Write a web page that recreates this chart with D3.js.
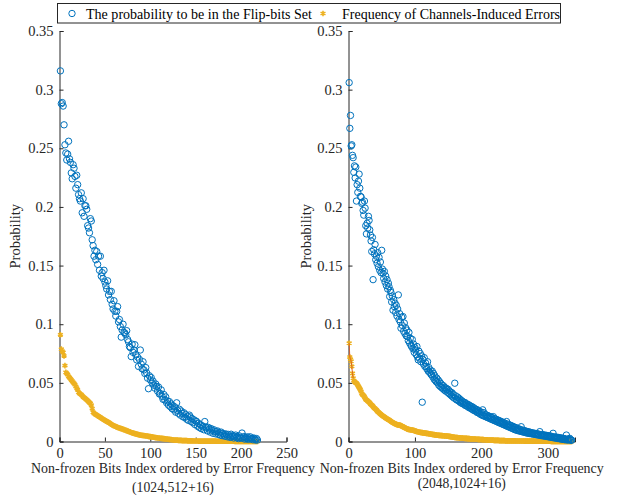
<!DOCTYPE html>
<html>
<head>
<meta charset="utf-8">
<script src="https://cdn.jsdelivr.net/npm/d3@7"></script>
<style>
	body{margin:0;background:#fff}
	svg{font-family:'Liberation Serif',serif}
</style>
</head>
<body>
<svg id="chart" width="622" height="498"></svg>
<script>
// values, index = position in array + 1
const flipLeft = [
0.316,0.288,0.289,0.286,0.270,0.253,0.246,0.240,0.245,0.256,
0.241,0.238,0.229,0.224,0.236,0.233,0.226,0.216,0.227,0.219,
0.2105,0.207,0.205,0.212,0.195,0.207,0.192,0.201,0.201,0.198,
0.184,0.182,0.178,0.190,0.188,0.172,0.167,0.158,0.163,0.155,
0.162,0.151,0.158,0.146,0.158,0.141,0.144,0.139,0.146,0.136,
0.133,0.130,0.137,0.125,0.128,0.121,0.128,0.117,0.113,0.120,
0.111,0.107,0.111,0.115,0.102,0.104,0.098,0.089,0.095,0.100,
0.093,0.0925,0.091,0.0945,0.087,0.085,0.081,0.080,0.0724,0.083,
0.076,0.078,0.0825,0.074,0.0696,0.072,0.064,0.070,0.078,0.066,
0.062,0.068,0.061,0.058,0.063,0.0585,0.054,0.045,0.056,0.0525,
0.0545,0.050,0.0515,0.048,0.0455,0.049,0.047,0.043,0.0465,0.0405,
0.041,0.044,0.0385,0.036,0.040,0.0354,0.038,0.033,0.0345,0.031,
0.034,0.0297,0.032,0.028,0.0305,0.027,0.0295,0.025,0.033,0.0265,
0.024,0.0275,0.0225,0.026,0.024,0.021,0.0245,0.0205,0.023,0.019,
0.0215,0.018,0.0225,0.021,0.017,0.0195,0.016,0.0185,0.0145,0.0175,
0.017,0.013,0.0155,0.012,0.0145,0.011,0.0135,0.0125,0.010,0.017,
0.0125,0.0115,0.009,0.012,0.0105,0.008,0.011,0.0095,0.007,0.010,
0.0085,0.0065,0.0084,0.009,0.006,0.0075,0.0055,0.008,0.005,0.0068,
0.0058,0.0045,0.0065,0.0055,0.004,0.006,0.0048,0.0035,0.0062,0.0042,
0.005,0.003,0.0045,0.0055,0.0032,0.004,0.0025,0.0048,0.0035,0.0028,
0.0072,0.003,0.0042,0.002,0.0035,0.0025,0.004,0.0018,0.003,0.004,
0.0022,0.0028,0.0015,0.003,0.002,0.0012,0.0025,0.0013]

const freqLeft = [
0.091,0.0787,0.077,0.076,0.073,0.0647,0.059,0.058,0.057,0.0555,
0.0545,0.0535,0.0525,0.0515,0.0505,0.0495,0.0485,0.047,0.0455,0.044,
0.042,0.041,0.0405,0.040,0.039,0.038,0.0375,0.037,0.0362,0.0355,
0.0348,0.034,0.0332,0.0325,0.031,0.028,0.025,0.024,0.0235,0.023,
0.0225,0.022,0.0215,0.021,0.0205,0.020,0.0195,0.019,0.0185,0.018,
0.0176,0.0172,0.0168,0.0164,0.0158,0.0152,0.0147,0.0142,0.0138,0.0134,
0.013,0.0127,0.0124,0.012,0.0117,0.0114,0.0112,0.011,0.0107,0.0104,
0.0101,0.0098,0.0095,0.0092,0.0089,0.0086,0.0083,0.008,0.0077,0.0074,
0.0071,0.0069,0.0067,0.0065,0.0063,0.0061,0.0059,0.0057,0.0055,0.0053,
0.0052,0.0051,0.005,0.0049,0.0048,0.0047,0.0046,0.0044,0.0042,0.0041,
0.004,0.0039,0.0037,0.0036,0.0034,0.0033,0.0032,0.0031,0.003,0.0029,
0.0028,0.0027,0.0026,0.0025,0.0024,0.0023,0.0022,0.0021,0.002,0.0019,
0.0018,0.0017,0.0016,0.0015,0.0014,0.0013,0.0012,0.0012,0.0011,0.0011,
0.001,0.001,0.0009,0.0009,0.0008,0.0008,0.0008,0.0007,0.0007,0.0007,
0.0006,0.0006,0.0006,0.0005,0.0005,0.0005,0.0005,0.0004,0.0004,0.0004,
0.0004,0.0004,0.0003,0.0003,0.0003,0.0003,0.0003,0.0003,0.0003,0.0003,
0.0003,0.0003,0.0003,0.0003,0.0003,0.0003,0.0003,0.0003,0.0003,0.0003,
0.0003,0.0003,0.0002,0.0002,0.0002,0.0002,0.0002,0.0002,0.0002,0.0002,
0.0002,0.0002,0.0002,0.0002,0.0002,0.0002,0.0002,0.0002,0.0002,0.0002,
0.0002,0.0002,0.0001,0.0001,0.0001,0.0001,0.0001,0.0001,0.0001,0.0001,
0.0001,0.0001,0.0001,0.0001,0.0001,0.0001,0.0001,0.0001,0.0001,0.0001,
0.0001,0.0001,0.0001,0,0,0,0,0]

const flipRight = [
0.306,0.267,0.278,0.252,0.253,0.244,0.242,0.2295,0.235,0.2247,
0.234,0.205,0.219,0.2124,0.222,0.228,0.216,0.209,0.2085,0.203,
0.204,0.197,0.193,0.205,0.199,0.184,0.177,0.186,0.182,0.192,
0.1885,0.1805,0.176,0.171,0.162,0.174,0.138,0.1635,0.160,0.168,
0.155,0.158,0.152,0.161,0.149,0.157,0.146,0.153,0.144,0.163,
0.147,0.1435,0.139,0.145,0.136,0.141,0.133,0.138,0.130,0.135,
0.132,0.1236,0.129,0.127,0.119,0.124,0.112,0.121,0.115,0.118,
0.110,0.116,0.107,0.113,0.125,0.104,0.109,0.102,0.0966,0.106,
0.099,0.1065,0.094,0.101,0.092,0.097,0.090,0.095,0.0895,0.086,
0.093,0.084,0.088,0.082,0.081,0.087,0.079,0.083,0.076,0.080,
0.078,0.074,0.081,0.072,0.0696,0.077,0.071,0.075,0.068,0.073,
0.0335,0.070,0.066,0.0715,0.064,0.067,0.064,0.062,0.068,0.060,
0.063,0.059,0.061,0.0575,0.0568,0.060,0.055,0.058,0.053,0.056,
0.052,0.051,0.054,0.050,0.0525,0.048,0.051,0.047,0.0495,0.046,
0.048,0.045,0.0475,0.044,0.046,0.043,0.0455,0.044,0.042,0.0445,
0.041,0.043,0.040,0.042,0.039,0.0415,0.038,0.040,0.037,0.0497,
0.039,0.036,0.0354,0.038,0.035,0.037,0.034,0.036,0.033,0.035,
0.0325,0.034,0.032,0.0335,0.031,0.033,0.0305,0.032,0.030,0.0315,
0.029,0.031,0.0285,0.030,0.028,0.0297,0.027,0.029,0.0265,0.028,
0.026,0.0275,0.025,0.027,0.0245,0.026,0.024,0.0255,0.023,0.025,
0.0225,0.027,0.022,0.0245,0.0215,0.023,0.021,0.0225,0.0205,0.022,
0.020,0.0215,0.0195,0.021,0.019,0.0205,0.0185,0.0212,0.018,0.0195,
0.0175,0.019,0.017,0.0185,0.0165,0.018,0.016,0.0175,0.0155,0.017,
0.015,0.0165,0.0145,0.016,0.014,0.0155,0.0135,0.017,0.013,0.0148,
0.0125,0.0142,0.012,0.0138,0.0115,0.0132,0.011,0.0128,0.0105,0.0122,
0.0100,0.0118,0.0096,0.0113,0.0093,0.0108,0.009,0.0104,0.0087,0.0126,
0.0084,0.0098,0.0081,0.0094,0.0078,0.009,0.0075,0.0087,0.0072,0.0084,
0.007,0.0081,0.0068,0.0078,0.0066,0.0075,0.0064,0.0072,0.0062,0.007,
0.006,0.0068,0.0058,0.0066,0.0056,0.0064,0.0054,0.0084,0.0052,0.006,
0.005,0.0058,0.0048,0.0056,0.0046,0.0054,0.0044,0.0052,0.0042,0.005,
0.004,0.0048,0.0038,0.0046,0.0036,0.0044,0.0034,0.007,0.0032,0.004,
0.003,0.0038,0.0028,0.0036,0.0026,0.0034,0.0024,0.0032,0.0022,0.003,
0.002,0.0028,0.0018,0.0026,0.0016,0.0024,0.0015,0.0055,0.0014,0.002,
0.0012,0.0018,0.0027,0.0015,0.001,0.0012]

const freqRight = [
0.0838,0.072,0.070,0.0685,0.064,0.058,0.054,0.052,0.051,0.0505,
0.050,0.0497,0.049,0.048,0.047,0.046,0.045,0.044,0.0425,0.041,
0.040,0.0395,0.039,0.038,0.037,0.036,0.0354,0.035,0.0345,0.034,
0.0335,0.033,0.032,0.0315,0.031,0.0305,0.0297,0.029,0.0285,0.028,
0.0275,0.027,0.0262,0.0255,0.025,0.0245,0.024,0.0235,0.023,0.0225,
0.022,0.0216,0.0212,0.021,0.0205,0.020,0.0197,0.0193,0.019,0.0187,
0.0184,0.018,0.0176,0.0172,0.0168,0.0164,0.016,0.0157,0.0154,0.0151,
0.0148,0.0146,0.0144,0.0142,0.0141,0.014,0.0139,0.0137,0.0135,0.0132,
0.0129,0.0126,0.0123,0.012,0.0117,0.0114,0.0111,0.0108,0.0106,0.0104,
0.0102,0.0101,0.01,0.0099,0.0098,0.0097,0.0096,0.0095,0.0093,0.0091,
0.0089,0.0087,0.0085,0.0083,0.0081,0.008,0.0079,0.0078,0.0077,0.0076,
0.0075,0.0074,0.0073,0.0072,0.0071,0.0071,0.007,0.0069,0.0068,0.0067,
0.0066,0.0065,0.0064,0.0063,0.0062,0.0061,0.006,0.0059,0.0058,0.0057,
0.0056,0.0055,0.0054,0.0053,0.0053,0.0052,0.0052,0.0051,0.0051,0.005,
0.005,0.0049,0.0049,0.0048,0.0048,0.0047,0.0047,0.0046,0.0046,0.0045,
0.0044,0.0043,0.0042,0.0041,0.004,0.0039,0.0038,0.0037,0.0036,0.0035,
0.0034,0.0034,0.0033,0.0033,0.0032,0.0032,0.0031,0.0031,0.003,0.003,
0.0029,0.0029,0.0028,0.0028,0.0027,0.0027,0.0026,0.0026,0.0025,0.0025,
0.0024,0.0024,0.0023,0.0023,0.0022,0.0022,0.0021,0.0021,0.002,0.002,
0.002,0.0019,0.0019,0.0019,0.0018,0.0018,0.0018,0.0017,0.0017,0.0017,
0.0016,0.0016,0.0016,0.0015,0.0015,0.0015,0.0014,0.0014,0.0014,0.0013,
0.0013,0.0013,0.0012,0.0012,0.0012,0.0011,0.0011,0.0011,0.001,0.001,
0.001,0.001,0.0009,0.0009,0.0009,0.0009,0.0008,0.0008,0.0008,0.0008,
0.0007,0.0007,0.0007,0.0007,0.0007,0.0006,0.0006,0.0006,0.0006,0.0006,
0.0006,0.0006,0.0005,0.0005,0.0005,0.0005,0.0005,0.0005,0.0005,0.0005,
0.0005,0.0005,0.0004,0.0004,0.0004,0.0004,0.0004,0.0004,0.0004,0.0004,
0.0004,0.0004,0.0004,0.0004,0.0003,0.0003,0.0003,0.0003,0.0003,0.0003,
0.0003,0.0003,0.0003,0.0003,0.0003,0.0003,0.0003,0.0003,0.0003,0.0003,
0.0003,0.0003,0.0002,0.0002,0.0002,0.0002,0.0002,0.0002,0.0002,0.0002,
0.0002,0.0002,0.0002,0.0002,0.0002,0.0002,0.0002,0.0002,0.0002,0.0002,
0.0002,0.0002,0.0002,0.0002,0.0001,0.0001,0.0001,0.0001,0.0001,0.0001,
0.0001,0.0001,0.0001,0.0001,0.0001,0.0001,0.0001,0.0001,0.0001,0.0001,
0.0001,0.0001,0.0001,0.0001,0.0001,0,0,0,0,0,
0,0,0,0,0,0]

const yTicks = [0,0.05,0.1,0.15,0.2,0.25,0.3,0.35]
const xTicksLeft = [0,50,100,150,200,250]
const xTicksRight = [0,100,200,300]
const seriesNames = ['The probability to be in the Flip-bits Set','Frequency of Channels-Induced Errors']
const xTitle = 'Non-frozen Bits Index ordered by Error Frequency'
const yTitle = 'Probability'
const subTitles = ['(1024,512+16)','(2048,1024+16)']

const blue = '#0072BD'
const gold = '#EDB120'
const ink = '#262626'
const svg = d3.select('#chart')

const panels = [
	{flip:flipLeft, freq:freqLeft, xmax:250, ticks:xTicksLeft, x0:59.5, x1:286.5, sub:subTitles[0], subY:492, ylab:20, redLine:false},
	{flip:flipRight, freq:freqRight, xmax:341, ticks:xTicksRight, x0:348.5, x1:575, sub:subTitles[1], subY:488, ylab:311, redLine:true}
]

const yTop = 31, yBottom = 441.5

const star = d3.symbol().type(d3.symbolAsterisk).size(22)

panels.forEach(p => {
	const x = d3.scaleLinear().domain([0,p.xmax]).range([p.x0,p.x1])
	const y = d3.scaleLinear().domain([0,0.35]).range([yBottom,yTop])
	const g = svg.append('g')

	// axes (matlab style, ticks inward)
	const ax = g.append('g').attr('transform',`translate(0,${yBottom})`)
		.call(d3.axisBottom(x).tickValues(p.ticks).tickSize(-4).tickPadding(6).tickFormat(d3.format('')))
	const ay = g.append('g').attr('transform',`translate(${p.x0},0)`)
		.call(d3.axisLeft(y).tickValues(yTicks).tickSize(-4).tickPadding(6).tickFormat(d => d === 0 ? '0' : String(d)))
	;[ax,ay].forEach(a => {
		a.select('.domain').attr('stroke',ink).attr('stroke-width',1)
		a.selectAll('.tick line').attr('stroke',ink)
		a.selectAll('.tick text').attr('fill',ink).style('font-size','14.5px').style('font-family',"'Liberation Serif',serif")
	})

	// frequency series (stars)
	g.selectAll('.fq')
		.data(p.freq)
		.enter()
		.append('path')
		.attr('d',star)
		.attr('transform',(d,i) => `translate(${x(i+1)},${y(d)})`)
		.attr('fill','none')
		.attr('stroke',gold)
		.attr('stroke-width',1.6)

	if(p.redLine){
		g.append('path')
			.datum(p.freq.slice(0,7))
			.attr('d',d3.line().x((d,i) => x(i+1)).y(d => y(d)))
			.attr('fill','none')
			.attr('stroke','#D95319')
			.attr('stroke-width',0.8)
	}

	// flip-bit probability (open circles)
	g.selectAll('.fl')
		.data(p.flip)
		.enter()
		.append('circle')
		.attr('cx',(d,i) => x(i+1))
		.attr('cy',d => y(d))
		.attr('r',3.2)
		.attr('fill','none')
		.attr('stroke',blue)
		.attr('stroke-width',1)

	const cx = (p.x0 + p.x1) / 2
	g.append('text')
		.attr('x',cx).attr('y',473)
		.attr('text-anchor','middle')
		.style('font-size','14.5px')
		.attr('textLength',284)
		.attr('lengthAdjust','spacingAndGlyphs')
		.attr('fill',ink)
		.text(xTitle)
	g.append('text')
		.attr('x',cx).attr('y',p.subY)
		.attr('text-anchor','middle')
		.style('font-size','14px')
		.attr('textLength',p.sub.length * 6.3)
		.attr('lengthAdjust','spacingAndGlyphs')
		.attr('fill',ink)
		.text(p.sub)
	g.append('text')
		.attr('transform',`translate(${p.ylab},${(yTop+yBottom)/2}) rotate(-90)`)
		.attr('text-anchor','middle')
		.style('font-size','14.5px')
		.attr('fill',ink)
		.text(yTitle)
})

// legend
const lg = svg.append('g')
lg.append('rect')
	.attr('x',57.5).attr('y',3.5).attr('width',503).attr('height',19.5)
	.attr('fill','#fff').attr('stroke',ink).attr('stroke-width',1)
lg.append('circle').attr('cx',72).attr('cy',13.5).attr('r',3.2)
	.attr('fill','none').attr('stroke',blue)
lg.append('text').attr('x',86).attr('y',18.5).style('font-size','15px')
	.attr('textLength',226).attr('lengthAdjust','spacingAndGlyphs')
	.attr('fill','#000').text(seriesNames[0])
lg.append('path').attr('d',star).attr('transform','translate(323,13.5)')
	.attr('fill','none').attr('stroke',gold).attr('stroke-width',1.6)
lg.append('text').attr('x',342).attr('y',18.5).style('font-size','15px')
	.attr('textLength',218).attr('lengthAdjust','spacingAndGlyphs')
	.attr('fill','#000').text(seriesNames[1])
</script>
</body>
</html>
